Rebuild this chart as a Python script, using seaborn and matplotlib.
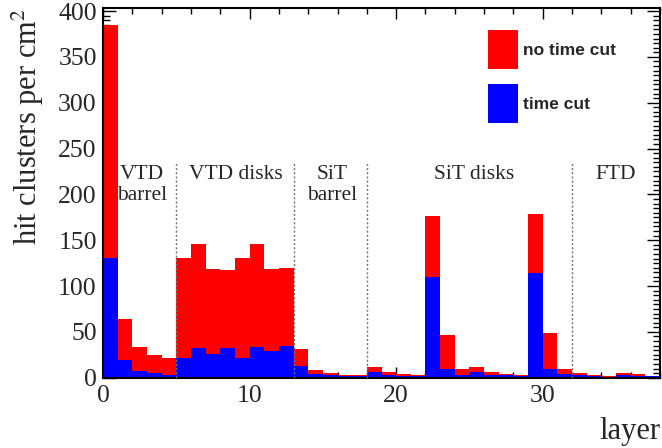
import numpy as np
import pandas as pd
import matplotlib
matplotlib.use("Agg")
import matplotlib.pyplot as plt
import matplotlib.transforms as mtransforms
from matplotlib.patches import Patch
import seaborn as sns

# hit clusters per cm^2 for every layer
layers = np.arange(38)
no_time_cut = [385, 64, 34, 25, 21, 131, 146, 119, 117, 131, 146, 119, 120,
               31, 8, 5.5, 3, 2.5, 11.5, 6, 4, 3, 176, 47, 9.5, 11.5, 6, 4, 3,
               179, 49, 9.5, 5, 3, 1.8, 5, 3.5, 2]
time_cut = [131, 19, 7, 5, 3, 22, 32, 25.5, 32, 21, 33, 29, 35,
            13, 4, 2.6, 2, 1.8, 6.5, 3.3, 2, 2, 110, 9.5, 3, 6.5, 3.3, 2.5, 2,
            114.5, 9.5, 4, 2.5, 1.8, 1, 3, 2, 1.5]

# detector regions
region_names = ["VTD\nbarrel", "VTD disks", "SiT\nbarrel", "SiT disks", "FTD"]
region_centres = [2.65, 9.05, 15.65, 25.35, 35.0]
region_borders = [5, 13, 18, 32]

df = pd.DataFrame({"layer": layers + 0.5, "no_cut": no_time_cut, "cut": time_cut})

sns.set_style("ticks")
plt.rcParams["font.family"] = ["Liberation Serif", "DejaVu Serif"]
plt.rcParams["mathtext.fontset"] = "stix"

fig = plt.figure(figsize=(6.62, 4.48), dpi=100)
ax = fig.add_axes([103 / 662, 1 - 377.7 / 448, 557 / 662, 369.4 / 448])

sns.histplot(data=df, x="layer", weights="no_cut", binwidth=1, binrange=(0, 38),
             element="step", fill=True, color="#ff0000", alpha=1, linewidth=0, ax=ax)
sns.histplot(data=df, x="layer", weights="cut", binwidth=1, binrange=(0, 38),
             element="step", fill=True, color="#0000ff", alpha=1, linewidth=0, ax=ax)

ax.vlines(region_borders, 0, 235, colors="0.45", linestyles=(0, (1.5, 1.5)),
          linewidth=1.0, zorder=3)
for name, xc in zip(region_names, region_centres):
    ax.text(xc, 232.5, name, ha="center", va="top", multialignment="center",
            fontsize=15.5, linespacing=1.15, zorder=4)

ax.set_xlim(0, 38)
ax.set_ylim(0, 403)
ax.xaxis.set_major_locator(matplotlib.ticker.MultipleLocator(10))
ax.xaxis.set_minor_locator(matplotlib.ticker.MultipleLocator(2))
ax.yaxis.set_major_locator(matplotlib.ticker.MultipleLocator(50))
ax.yaxis.set_minor_locator(matplotlib.ticker.MultipleLocator(5))
ax.tick_params(which="both", direction="in", top=True, right=True,
               labelsize=18.5, width=1.0, color="black")
ax.tick_params(axis="x", which="major", length=8, pad=5.5)
ax.tick_params(axis="x", which="minor", length=4.3)
ax.tick_params(axis="y", which="major", length=9.5, pad=4.5)
ax.tick_params(axis="y", which="minor", length=5)
for sp in ax.spines.values():
    sp.set_linewidth(1.5)
    sp.set_color("black")

ax.set_xlabel("layer", fontsize=22, loc="right", labelpad=7)
ax.set_ylabel("hit clusters per cm$^2$", fontsize=22, loc="top", labelpad=9)

# ROOT pushes the zero label of the y axis up a little
zero_lab = ax.yaxis.get_major_ticks()[0].label1
zero_lab.set_transform(mtransforms.offset_copy(zero_lab.get_transform(), fig=fig,
                                               x=0, y=6, units="dots"))

handles = [Patch(facecolor="#ff0000", edgecolor="none"),
           Patch(facecolor="#0000ff", edgecolor="none")]
ax.legend(handles, ["no time cut", "time cut"], loc="upper left",
          bbox_to_anchor=(488 / 662, 1 - 30.5 / 448), bbox_transform=fig.transFigure,
          frameon=False, borderpad=0, borderaxespad=0,
          prop={"family": "Liberation Sans", "weight": "bold", "size": 12.5},
          handlelength=1.72, handleheight=3.07, labelspacing=0.86,
          handletextpad=0.3)

fig.savefig("out.png", dpi=100)
